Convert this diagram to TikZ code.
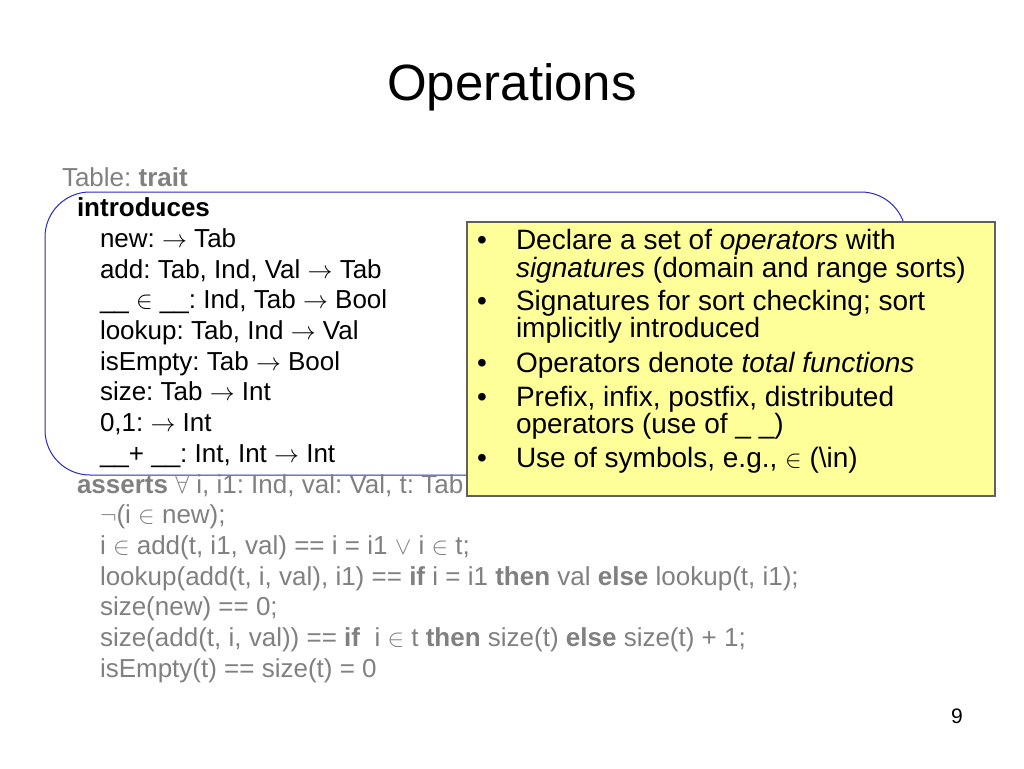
\documentclass[tikz,border=0pt]{standalone}
\usepackage{fontspec}
\setmainfont{Liberation Sans}
\usepackage{tikz}
\frenchspacing

\definecolor{textgray}{RGB}{128,128,128}
\definecolor{frameblue}{RGB}{40,40,200}
\definecolor{noteyellow}{RGB}{255,255,153}
\definecolor{noteedge}{RGB}{96,96,96}

\begin{document}
\begin{tikzpicture}[x=1pt,y=-1pt,
    every node/.style={inner sep=0pt,outer sep=0pt},
    codeline/.style={anchor=base west,font=\fontsize{26}{30}\selectfont},
    grayline/.style={codeline,text=textgray},
    noteline/.style={anchor=base west,font=\fontsize{28}{28}\selectfont}]
  \useasboundingbox (0,0) rectangle (1024,768);

  % Title.
  \node[anchor=base,font=\fontsize{51}{60}\selectfont] (title) at (512,100) {Operations};

  %%%%%%%%%%%%%%%%%%%%%%%%%%%%%%%%%%%%%%%%%%%%%%%%%%%%%%%%%%%%%%%%%%%%%%%%%%
  %%% BEGIN: TRAIT LISTING.
  %%%%%%%%%%%%%%%%%%%%%%%%%%%%%%%%%%%%%%%%%%%%%%%%%%%%%%%%%%%%%%%%%%%%%%%%%%
  % Frame round the signatures.
  \draw[frameblue,line width=1pt,rounded corners=45pt] (45,192) rectangle (906,475);

  \node[grayline] (trait) at (62,186) {Table: \textbf{trait}};
  \node[codeline] (intro) at (77,216.7) {\textbf{introduces}};

  % Signature lines.
  \foreach \k/\txt in {0/{new: $\rightarrow$ Tab},
                       1/{add: Tab, Ind, Val $\rightarrow$ Tab},
                       2/{\_\_ $\in$ \_\_: Ind, Tab $\rightarrow$ Bool},
                       3/{lookup: Tab, Ind $\rightarrow$ Val},
                       4/{isEmpty: Tab $\rightarrow$ Bool},
                       5/{size: Tab $\rightarrow$ Int},
                       6/{0,1: $\rightarrow$ Int},
                       7/{\_\_+ \_\_: Int, Int $\rightarrow$ Int}}{
    \node[codeline] (sig\k) at (100,247.4+30.7*\k) {\txt};
  }

  \node[grayline] (asserts) at (77,493) {\textbf{asserts} $\forall$ i, i1: Ind, val: Val, t: Tab};

  % Equation lines.
  \foreach \k/\txt in {0/{$\neg$(i $\in$ new);},
                       1/{i $\in$ add(t, i1, val) == i = i1 $\vee$ i $\in$ t;},
                       2/{lookup(add(t, i, val), i1) == \textbf{if} i = i1 \textbf{then} val \textbf{else} lookup(t, i1);},
                       3/{size(new) == 0;},
                       4/{size(add(t, i, val)) == \textbf{if}\ \ i $\in$ t \textbf{then} size(t) \textbf{else} size(t) + 1;},
                       5/{isEmpty(t) == size(t) = 0}}{
    \node[grayline] (eq\k) at (100,523.7+30.7*\k) {\txt};
  }
  %%%%%%%%%%%%%%%%%%%%%%%%%%%%%%%%%%%%%%%%%%%%%%%%%%%%%%%%%%%%%%%%%%%%%%%%%%
  %%% END: TRAIT LISTING.
  %%%%%%%%%%%%%%%%%%%%%%%%%%%%%%%%%%%%%%%%%%%%%%%%%%%%%%%%%%%%%%%%%%%%%%%%%%

  %%%%%%%%%%%%%%%%%%%%%%%%%%%%%%%%%%%%%%%%%%%%%%%%%%%%%%%%%%%%%%%%%%%%%%%%%%
  %%% BEGIN: NOTE BOX.
  %%%%%%%%%%%%%%%%%%%%%%%%%%%%%%%%%%%%%%%%%%%%%%%%%%%%%%%%%%%%%%%%%%%%%%%%%%
  \draw[fill=noteyellow,draw=noteedge,line width=1.5pt] (467,222) rectangle (995,496);

  % Bullets.
  \foreach \k/\y in {1/249,2/310,3/372,4/406,5/467}{
    \node[noteline] (dot\k) at (477,\y) {\textbullet};
  }

  % Note lines.
  \foreach \k/\y/\txt in {1/249/{Declare a set of \textit{operators} with},
                          2/277/{\textit{signatures} (domain and range sorts)},
                          3/310/{Signatures for sort checking; sort},
                          4/337/{implicitly introduced},
                          5/372/{Operators denote \textit{total functions}},
                          6/406/{Prefix, infix, postfix, distributed},
                          7/433/{operators (use of \_ \_)},
                          8/467/{Use of symbols, e.g., $\in$ (\textbackslash in)}}{
    \node[noteline] (note\k) at (516,\y) {\txt};
  }
  %%%%%%%%%%%%%%%%%%%%%%%%%%%%%%%%%%%%%%%%%%%%%%%%%%%%%%%%%%%%%%%%%%%%%%%%%%
  %%% END: NOTE BOX.
  %%%%%%%%%%%%%%%%%%%%%%%%%%%%%%%%%%%%%%%%%%%%%%%%%%%%%%%%%%%%%%%%%%%%%%%%%%

  % Page number.
  \node[anchor=base,font=\fontsize{21}{24}\selectfont] (page) at (957,723) {9};
\end{tikzpicture}
\end{document}
